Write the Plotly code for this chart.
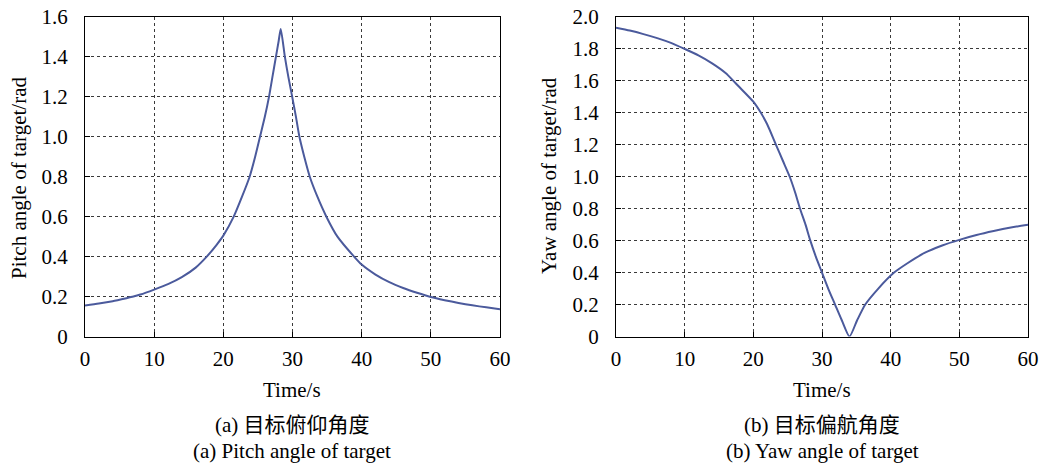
import plotly.graph_objects as go

# Pitch angle of target (rad) vs time (s)
pitch_t = [0, 2, 4, 6, 7, 8, 10, 12, 14, 16, 17.6, 19, 20, 21.5, 22.7, 23.8, 24.6, 25.3, 26, 26.6,
           27.1, 27.6, 28, 28.3, 28.9, 29.4, 29.96, 30.5, 31.0, 31.7, 32.5, 33.6, 34.9, 36.5, 38.9,
           40, 42, 44, 46, 48, 50, 52, 54, 56, 58, 60]
pitch_v = [0.155, 0.165, 0.177, 0.192, 0.2, 0.21, 0.235, 0.262, 0.297, 0.345, 0.4, 0.458, 0.505, 0.6,
           0.7, 0.8, 0.9, 1.0, 1.1, 1.2, 1.3, 1.4, 1.48, 1.54, 1.4, 1.3, 1.2, 1.1, 1.0, 0.9, 0.8, 0.7,
           0.6, 0.5, 0.4, 0.36, 0.31, 0.272, 0.243, 0.219, 0.198, 0.182, 0.168, 0.156, 0.146, 0.137]

# Yaw angle of target (rad) vs time (s)
yaw_t = [0, 2, 4, 6, 8, 10, 12, 14, 16, 17.1, 18, 20, 21.1, 22, 23.3, 24.3, 25.3, 26.1, 26.8, 27.6,
         28.3, 29.1, 30.0, 30.9, 31.9, 32.9, 34.0, 35.1, 36.3, 38.2, 40.5, 42.5, 45, 47.5, 50, 52.5,
         55, 57.5, 60]
yaw_v = [1.933, 1.915, 1.893, 1.868, 1.838, 1.80, 1.76, 1.71, 1.648, 1.6, 1.56, 1.47, 1.4, 1.33, 1.2,
         1.1, 1.0, 0.9, 0.8, 0.7, 0.6, 0.5, 0.4, 0.3, 0.2, 0.1, 0.0, 0.1, 0.2, 0.3, 0.4, 0.46, 0.525,
         0.57, 0.605, 0.635, 0.66, 0.682, 0.70]

x_ticks = [0, 10, 20, 30, 40, 50, 60]
pitch_yticks = [0, 0.2, 0.4, 0.6, 0.8, 1.0, 1.2, 1.4, 1.6]
pitch_ytext = ["0", "0.2", "0.4", "0.6", "0.8", "1.0", "1.2", "1.4", "1.6"]
yaw_yticks = [0, 0.2, 0.4, 0.6, 0.8, 1.0, 1.2, 1.4, 1.6, 1.8, 2.0]
yaw_ytext = ["0", "0.2", "0.4", "0.6", "0.8", "1.0", "1.2", "1.4", "1.6", "1.8", "2.0"]

W, H = 1048, 465
FONT = "Liberation Serif, Times New Roman, Noto Sans CJK SC, serif"
LINE_COLOR = "#4b5a9c"
FS_TICK = 21
FS = 21


def px(x):
    return x / W


def py(y):
    return 1 - y / H


fig = go.Figure()
fig.add_trace(go.Scatter(x=pitch_t, y=pitch_v, mode="lines", xaxis="x", yaxis="y",
                         line=dict(color=LINE_COLOR, width=2, shape="spline", smoothing=0.6),
                         showlegend=False))
fig.add_trace(go.Scatter(x=yaw_t, y=yaw_v, mode="lines", xaxis="x2", yaxis="y2",
                         line=dict(color=LINE_COLOR, width=2, shape="spline", smoothing=0.6),
                         showlegend=False))


def xax(domain, anchor):
    return dict(domain=domain, anchor=anchor, range=[0, 60], tickvals=x_ticks,
                showgrid=True, gridcolor="#3a3a3a", griddash="dot", gridwidth=1,
                showline=True, linecolor="black", linewidth=1, mirror=True,
                ticks="inside", ticklen=5, tickcolor="black", zeroline=False,
                automargin=False, ticklabelstandoff=3, ticklabeloverflow="allow",
                tickfont=dict(family=FONT, size=FS_TICK, color="black"))


def yax(domain, anchor, rng, vals, text):
    return dict(domain=domain, anchor=anchor, range=rng, tickvals=vals, ticktext=text,
                showgrid=True, gridcolor="#3a3a3a", griddash="dot", gridwidth=1,
                showline=True, linecolor="black", linewidth=1, mirror=True,
                ticks="inside", ticklen=5, tickcolor="black", zeroline=False,
                automargin=False, ticklabelstandoff=12, ticklabeloverflow="allow",
                tickfont=dict(family=FONT, size=FS_TICK, color="black"))


ydom = [py(336.5), py(17)]
fig.update_layout(
    width=W, height=H,
    margin=dict(l=0, r=0, t=0, b=0, autoexpand=False),
    paper_bgcolor="white", plot_bgcolor="white",
    font=dict(family=FONT, size=FS, color="black"),
    xaxis=xax([px(85), px(500)], "y"),
    yaxis=yax(ydom, "x", [0, 1.6], pitch_yticks, pitch_ytext),
    xaxis2=xax([px(616), px(1028)], "y2"),
    yaxis2=yax(ydom, "x2", [0, 2.0], yaw_yticks, yaw_ytext),
)


def ann(text, x, y, angle=0):
    fig.add_annotation(text=text, x=px(x), y=py(y), xref="paper", yref="paper",
                       showarrow=False, textangle=angle, xanchor="center", yanchor="middle",
                       font=dict(family=FONT, size=FS, color="black"))


ann("Pitch angle of target/rad", 19, 178, -90)
ann("Yaw angle of target/rad", 549, 176, -90)
ann("Time/s", 292, 390)
ann("Time/s", 822, 390)
ann("(a) 目标俯仰角度", 292, 425)
ann("(a) Pitch angle of target", 292, 451)
ann("(b) 目标偏航角度", 822, 425)
ann("(b) Yaw angle of target", 822, 451)

# Remove the browser's default body margin so the figure fills the window exactly.
fig.write_html("out.html", config={"displayModeBar": False},
               post_script="document.body.style.margin='0';document.body.style.overflow='hidden';")
